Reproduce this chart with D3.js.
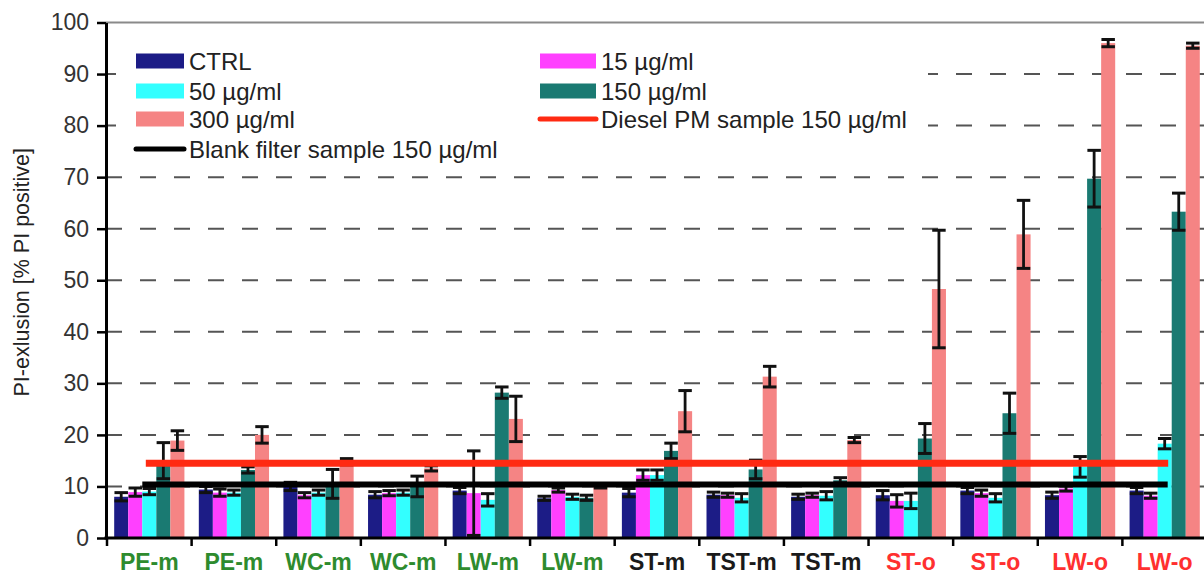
<!DOCTYPE html>
<html>
<head>
<meta charset="utf-8">
<script src="https://cdn.jsdelivr.net/npm/d3@7"></script>
<style>
  html, body { margin: 0; padding: 0; background: #fff; }
  svg { display: block; font-family: "Liberation Sans", Arial, sans-serif; }
</style>
</head>
<body>
<svg id="chart" width="1204" height="579"></svg>
<script>
// Sample groups along the x axis
const categories = ["PE-m", "PE-m", "WC-m", "WC-m", "LW-m", "LW-m", "ST-m", "TST-m", "TST-m", "ST-o", "ST-o", "LW-o", "LW-o"];
const categoryColors = ["#2e8b2e", "#2e8b2e", "#2e8b2e", "#2e8b2e", "#2e8b2e", "#2e8b2e", "#1a1a1a", "#1a1a1a", "#1a1a1a", "#ff3030", "#ff3030", "#ff3030", "#ff3030"];

// PI-positive cells (%) per dose, mean and error
const ctrl     = [8.0, 9.4, 10.0, 8.4, 9.2, 7.7, 8.8, 8.4, 8.0, 8.3, 9.2, 8.3, 9.2];
const ctrlErr  = [0.8, 0.6, 0.8, 0.6, 0.6, 0.4, 0.8, 0.5, 0.5, 0.9, 0.6, 0.6, 0.6];
const dose15   = [8.9, 8.8, 8.3, 8.7, 8.7, 9.3, 12.2, 8.3, 8.3, 7.2, 8.7, 9.6, 8.2];
const dose15Err  = [0.8, 0.7, 0.5, 0.5, 8.2, 0.4, 1.0, 0.4, 0.4, 1.2, 0.6, 0.5, 0.5];
const dose50   = [9.0, 8.8, 8.8, 8.8, 7.4, 8.0, 12.2, 7.8, 8.2, 7.2, 7.8, 13.8, 18.3];
const dose50Err  = [0.6, 0.5, 0.5, 0.5, 1.2, 0.5, 1.0, 0.8, 0.8, 1.5, 0.8, 2.0, 1.0];
const dose150  = [15.0, 13.2, 10.5, 10.0, 28.2, 7.8, 16.9, 13.3, 11.2, 19.3, 24.2, 69.7, 63.3];
const dose150Err = [3.5, 0.6, 2.8, 2.0, 1.1, 0.5, 1.5, 1.8, 0.5, 2.9, 3.9, 5.5, 3.6];
const dose300  = [18.9, 20.0, 14.8, 13.5, 23.1, 10.0, 24.6, 31.3, 19.0, 48.3, 58.9, 96.0, 95.5];
const dose300Err = [1.9, 1.6, 0.6, 0.5, 4.4, 0.3, 4.0, 2.0, 0.5, 11.4, 6.6, 0.7, 0.5];

// Reference levels
const dieselLevel = 14.5;
const blankLevel = 10.4;

const yTicks = [0, 10, 20, 30, 40, 50, 60, 70, 80, 90, 100];

const seriesNames = ["CTRL", "15 µg/ml", "50 µg/ml", "150 µg/ml", "300 µg/ml"];
const seriesColors = ["#1c1c86", "#ff40ff", "#33ffff", "#1a7a72", "#f58484"];
const seriesValues = [ctrl, dose15, dose50, dose150, dose300];
const seriesErrors = [ctrlErr, dose15Err, dose50Err, dose150Err, dose300Err];

const svg = d3.select("#chart");

const x0 = d3.scaleBand()
  .domain(d3.range(categories.length))
  .range([107, 1207])
  .paddingInner(0.17)
  .paddingOuter(0.085);

const x1 = d3.scaleBand()
  .domain(d3.range(seriesNames.length))
  .range([0, x0.bandwidth()]);

const y = d3.scaleLinear().domain([0, 100]).range([538, 22.5]);

const plotLeft = 106, plotRight = 1204;

// dashed gridlines
svg.append("g")
  .selectAll("line")
  .data(yTicks.filter(t => t > 0 && t < 100))
  .join("line")
  .attr("x1", plotLeft).attr("x2", plotRight)
  .attr("y1", d => y(d)).attr("y2", d => y(d))
  .attr("stroke", "#555")
  .attr("stroke-width", 2)
  .attr("stroke-dasharray", "16 18");

// top frame line
svg.append("line")
  .attr("x1", plotLeft).attr("x2", plotRight)
  .attr("y1", y(100)).attr("y2", y(100))
  .attr("stroke", "#8a8a8a").attr("stroke-width", 2);

// bars
const rows = [];
categories.forEach((c, i) => {
  seriesNames.forEach((s, k) => {
    rows.push({ i, k, v: seriesValues[k][i], e: seriesErrors[k][i] });
  });
});

svg.append("g")
  .selectAll("rect")
  .data(rows)
  .join("rect")
  .attr("x", d => x0(d.i) + x1(d.k))
  .attr("width", x1.bandwidth())
  .attr("y", d => y(d.v))
  .attr("height", d => y(0) - y(d.v))
  .attr("fill", d => seriesColors[d.k]);

// error bars
const eb = svg.append("g").attr("stroke", "#111");
const capHalf = x1.bandwidth() * 0.48;
rows.forEach(d => {
  const cx = x0(d.i) + x1(d.k) + x1.bandwidth() / 2;
  const lo = Math.max(0, d.v - d.e), hi = d.v + d.e;
  eb.append("line").attr("x1", cx).attr("x2", cx).attr("y1", y(lo)).attr("y2", y(hi)).attr("stroke-width", 2.8);
  eb.append("line").attr("x1", cx - capHalf).attr("x2", cx + capHalf).attr("y1", y(hi)).attr("y2", y(hi)).attr("stroke-width", 3);
  eb.append("line").attr("x1", cx - capHalf).attr("x2", cx + capHalf).attr("y1", y(lo)).attr("y2", y(lo)).attr("stroke-width", 3);
});

// reference lines
const firstC = x0(0) + x0.bandwidth() / 2;
const lastC = x0(categories.length - 1) + x0.bandwidth() / 2;
svg.append("line")
  .attr("x1", firstC - 4).attr("x2", lastC)
  .attr("y1", y(blankLevel)).attr("y2", y(blankLevel))
  .attr("stroke", "#000").attr("stroke-width", 6).attr("stroke-linecap", "square");
svg.append("line")
  .attr("x1", firstC).attr("x2", lastC)
  .attr("y1", y(dieselLevel)).attr("y2", y(dieselLevel))
  .attr("stroke", "#ff2a12").attr("stroke-width", 7).attr("stroke-linecap", "square");

// y axis
const yAxis = svg.append("g")
  .attr("transform", `translate(${plotLeft},0)`)
  .call(d3.axisLeft(y).tickValues(yTicks).tickSize(9).tickSizeOuter(0).tickPadding(8));
yAxis.select(".domain").attr("stroke", "#000").attr("stroke-width", 3);
yAxis.selectAll(".tick line").attr("stroke", "#000").attr("stroke-width", 2.5);
yAxis.selectAll(".tick text").attr("font-size", 23).attr("fill", "#333")
  .attr("font-family", "Liberation Sans, Arial, sans-serif");

// x axis: baseline, group separators and labels
svg.append("line")
  .attr("x1", plotLeft - 1.5).attr("x2", plotRight)
  .attr("y1", y(0)).attr("y2", y(0))
  .attr("stroke", "#000").attr("stroke-width", 3);

const halfGap = (x0.step() - x0.bandwidth()) / 2;
svg.append("g")
  .selectAll("line")
  .data(d3.range(categories.length))
  .join("line")
  .attr("x1", i => x0(i) - halfGap).attr("x2", i => x0(i) - halfGap)
  .attr("y1", y(0)).attr("y2", y(0) + 8)
  .attr("stroke", "#000").attr("stroke-width", 2.5);

const xAxis = svg.append("g")
  .attr("transform", `translate(0,${y(0)})`)
  .call(d3.axisBottom(x0).tickFormat(i => categories[i]).tickSize(0).tickPadding(16));
xAxis.select(".domain").remove();
xAxis.selectAll(".tick text")
  .attr("font-size", 23).attr("font-weight", "bold")
  .attr("font-family", "Liberation Sans, Arial, sans-serif")
  .attr("fill", i => categoryColors[i]);

// y axis title
svg.append("text")
  .attr("transform", `translate(22,${(y(0) + y(100)) / 2 - 8}) rotate(-90)`)
  .attr("text-anchor", "middle")
  .attr("dominant-baseline", "central")
  .attr("font-size", 21.5)
  .attr("fill", "#222")
  .text("PI-exlusion [% PI positive]");

// legend
svg.append("rect")
  .attr("x", 116).attr("y", 30).attr("width", 812).attr("height", 138)
  .attr("fill", "#fff");

const legendItems = [
  { name: "CTRL", color: seriesColors[0], type: "box", col: 0, row: 0 },
  { name: "15 µg/ml", color: seriesColors[1], type: "box", col: 1, row: 0 },
  { name: "50 µg/ml", color: seriesColors[2], type: "box", col: 0, row: 1 },
  { name: "150 µg/ml", color: seriesColors[3], type: "box", col: 1, row: 1 },
  { name: "300 µg/ml", color: seriesColors[4], type: "box", col: 0, row: 2 },
  { name: "Diesel PM sample 150 µg/ml", color: "#ff2a12", type: "line", col: 1, row: 2 },
  { name: "Blank filter sample 150 µg/ml", color: "#000", type: "line", col: 0, row: 3 }
];
const colX = [136, 540];
const swW = [48, 56];
const rowY = [61, 91, 119, 149];

const lg = svg.append("g");
legendItems.forEach(it => {
  const x = colX[it.col], yy = rowY[it.row], w = swW[it.col];
  if (it.type === "box") {
    lg.append("rect").attr("x", x).attr("y", yy - 7.5).attr("width", w).attr("height", 15).attr("fill", it.color);
  } else {
    lg.append("line").attr("x1", x).attr("x2", x + w).attr("y1", yy).attr("y2", yy)
      .attr("stroke", it.color).attr("stroke-width", 5).attr("stroke-linecap", "round");
  }
  lg.append("text")
    .attr("x", x + w + 5).attr("y", yy)
    .attr("dominant-baseline", "central")
    .attr("font-size", 24).attr("fill", "#222")
    .text(it.name);
});
</script>
</body>
</html>
